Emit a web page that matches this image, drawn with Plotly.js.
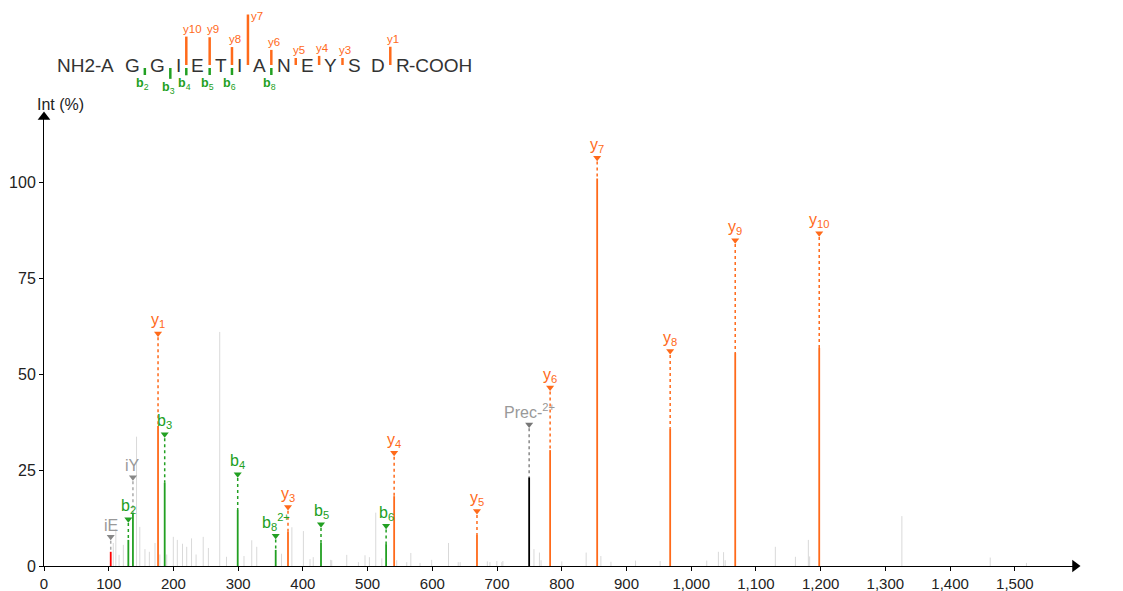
<!DOCTYPE html>
<html><head><meta charset="utf-8">
<script src="https://cdn.plot.ly/plotly-3.0.1.min.js"></script>
<style>html,body{margin:0;padding:0;background:#fff}#chart{width:1123px;height:591px}</style>
</head><body><div id="chart"></div>
<script>
// ================= DATA =================
const residues = ['A','G','G','I','E','T','I','A','N','E','Y','S','D','R'];
const nTermText = 'NH2-';
const cTermText = '-COOH';

// y ions
const yIonNames = ['1','3','4','5','6','7','8','9','10'];
const yIonMz = [176.2, 377.0, 541.0, 669.0, 782.0, 854.7, 967.5, 1068.0, 1197.8];
const yIonInt = [36.5, 8.9, 18.2, 8.1, 30.2, 101.0, 35.9, 55.5, 56.8];
const yIonLabelLevel = [60.6, 15.4, 29.5, 14.3, 46.5, 106.4, 56.0, 84.9, 86.7];

// b ions
const bIonNames = ['2','3','4','5','6','8'];
const bIonCharge = [1, 1, 1, 1, 1, 2];
const bIonMz = [130.3, 186.5, 299.3, 428.0, 528.6, 358.0];
const bIonInt = [6.8, 21.7, 14.6, 6.1, 5.7, 4.2];
const bIonLabelLevel = [12.2, 34.3, 23.9, 10.9, 10.5, 7.9];

// immonium ions
const immNames = ['iE', 'iY'];
const immMz = [103.1, 137.4];
const immInt = [3.7, 13.9];
const immLabelLevel = [7.6, 23.1];

// precursor
const precName = 'Prec-';
const precCharge = '2+';
const precMz = [749.6];
const precInt = [23.1];
const precLabelLevel = [36.9];

// unassigned peaks
const noiseMz = [107, 111, 116, 122.6, 143, 148, 156, 162.8, 171.5, 179, 189.6, 199.8, 206, 214, 220.5, 228, 235, 246, 254,
  271.5, 282, 309, 321, 328.7, 367, 383, 400.8, 411, 416, 443, 444.6, 467.8, 485.8, 496, 502.8, 512.6, 522, 545, 560.5,
  566.8, 581, 599, 625, 640, 643, 685, 689, 699.7, 707.4, 709, 757, 765.5, 768, 800, 837.7, 860.4, 876, 914, 952, 1024,
  1042, 1050, 1052.5, 1130, 1161, 1181, 1183, 1325.5, 1462, 1518];
const noiseInt = [6, 9.6, 2.9, 5.5, 33.7, 10.2, 4.4, 3.7, 6, 3, 3, 7.6, 6.8, 5.8, 5, 7.2, 3, 7.6, 4.7,
  61, 2.4, 2.6, 6.7, 5, 3.2, 10.1, 9.1, 1.8, 2.3, 1.6, 1.5, 2.9, 1, 2.8, 2.3, 13.9, 2, 1.5, 1,
  3.4, 0.8, 1.6, 6, 1, 1, 1.2, 1, 1.3, 1, 1.3, 4.4, 3.5, 1.5, 1.2, 3.5, 2.6, 1.1, 1.4, 1.3, 1.4,
  3.7, 3.6, 1.5, 5, 2.4, 6.8, 2.5, 13, 2.2, 0.8];

// ================= STYLE =================
const ORANGE = '#ff6a1a', GREEN = '#22a022', GREY_LBL = '#999999', GREY_PEAK = '#d9d9d9';
const FONT = '"Liberation Sans", Arial, sans-serif';
const W = 1123, H = 591, mL = 44, mR = 48, mT = 0, mB = 25;
const plotH = H - mT - mB;
const yTopPx = 117;
const X_MAX = 1593, Y_MAX = 117;

const traces = [];
const annotations = [];

function stickTrace(xs, ys0, ys1, color, width, dash) {
  const x = [], y = [];
  for (let i = 0; i < xs.length; i++) { x.push(xs[i], xs[i], null); y.push(ys0[i], ys1[i], null); }
  traces.push({type: 'scatter', mode: 'lines', x, y, xaxis: 'x', yaxis: 'y', hoverinfo: 'skip',
    line: {color, width, dash: dash || 'solid'}, cliponaxis: false});
}

// noise peaks
stickTrace(noiseMz, noiseMz.map(() => 0), noiseInt, GREY_PEAK, 1);

// annotated peak groups
function annotatedGroup(mz, inten, level, labels, solidColor, connColor, markColor, lblColor) {
  const solidColors = Array.isArray(solidColor) ? solidColor : mz.map(() => solidColor);
  const gap = 1.0;
  stickTrace(mz, level.map(l => l - gap), inten, connColor, 1.5, '3px,3px');
  const byColor = {};
  mz.forEach((m, i) => { (byColor[solidColors[i]] = byColor[solidColors[i]] || []).push(i); });
  Object.keys(byColor).forEach(c => {
    const idx = byColor[c];
    stickTrace(idx.map(i => mz[i]), idx.map(() => 0), idx.map(i => inten[i]), c, 1.8);
  });
  traces.push({type: 'scatter', mode: 'markers', x: mz, y: level, xaxis: 'x', yaxis: 'y', hoverinfo: 'skip',
    cliponaxis: false, marker: {symbol: 'triangle-down', size: 7, color: markColor, line: {width: 0}}});
  labels.forEach((t, i) => {
    annotations.push({x: mz[i], y: level[i], xref: 'x', yref: 'y', text: t, showarrow: false,
      xanchor: 'center', yanchor: 'bottom', yshift: 2, borderpad: 0,
      font: {family: FONT, size: 16, color: lblColor}});
  });
}

annotatedGroup(yIonMz, yIonInt, yIonLabelLevel, yIonNames.map(n => 'y<sub>' + n + '</sub>'), ORANGE, ORANGE, ORANGE, ORANGE);
annotatedGroup(bIonMz, bIonInt, bIonLabelLevel,
  bIonNames.map((n, i) => 'b<sub>' + n + '</sub>' + (bIonCharge[i] > 1 ? '<sup>' + bIonCharge[i] + '+</sup>' : '')),
  GREEN, GREEN, GREEN, GREEN);
annotatedGroup(immMz, immInt, immLabelLevel, immNames, ['#ff0000', GREEN], '#aaaaaa', '#888888', GREY_LBL);
annotatedGroup(precMz, precInt, precLabelLevel, [precName + '<sup>' + precCharge + '</sup>'], '#000000', '#888888', '#777777', GREY_LBL);

// axis arrows
traces.push({type: 'scatter', mode: 'markers', x: [0, X_MAX], y: [Y_MAX, 0], xaxis: 'x', yaxis: 'y', hoverinfo: 'skip',
  cliponaxis: false, marker: {symbol: ['triangle-up', 'triangle-right'], size: 11, color: '#000', line: {width: 0}}});

// ================= SEQUENCE DIAGRAM (pixel overlay axes x2/y2) =================
const seqSize = 19;
const ctx = document.createElement('canvas').getContext('2d');
ctx.font = seqSize + 'px "Liberation Sans"';
const seqLeft = 57, seqMid = 65.5, seqGap = 10.7;
let cursor = seqLeft + ctx.measureText(nTermText).width;
const resL = [], resR = [];
residues.forEach((r, i) => {
  const w = ctx.measureText(r).width;
  resL.push(cursor); resR.push(cursor + w);
  cursor += w + seqGap;
});
const seqFont = {family: FONT, size: seqSize, color: '#333333'};
annotations.push({x: resL[0], y: seqMid, xref: 'x2', yref: 'y2', text: nTermText, showarrow: false, xanchor: 'right',
  yanchor: 'middle', borderpad: 0, borderwidth: 0, font: seqFont});
residues.forEach((r, i) => annotations.push({x: (resL[i] + resR[i]) / 2, y: seqMid, xref: 'x2', yref: 'y2', text: r,
  showarrow: false, xanchor: 'center', yanchor: 'middle', borderpad: 0, borderwidth: 0, font: seqFont}));
annotations.push({x: resR[residues.length - 1], y: seqMid, xref: 'x2', yref: 'y2', text: cTermText, showarrow: false,
  xanchor: 'left', yanchor: 'middle', borderpad: 0, borderwidth: 0, font: seqFont});

const nRes = residues.length;
const cut = k => (resR[k - 1] + resL[k]) / 2; // cleavage after k residues
const barLen = I => Math.max(7, 0.5 * I);
const yBase = 65, bBase = 68;
// y fragment bars
{
  const x = [], y = [];
  yIonNames.forEach((n, i) => {
    const k = nRes - parseInt(n, 10);
    const cx = cut(k), top = yBase - barLen(yIonInt[i]);
    x.push(cx, cx, null); y.push(yBase, top, null);
    let ann = {x: cx - 4, y: top - 1, xref: 'x2', yref: 'y2', text: 'y' + n, showarrow: false, xanchor: 'left',
      yanchor: 'bottom', borderpad: 0, font: {family: FONT, size: 11.5, color: ORANGE}};
    if (top - 12 < 10) { ann.x = cx + 2; ann.y = top + 1; ann.yanchor = 'middle'; }
    annotations.push(ann);
  });
  traces.push({type: 'scatter', mode: 'lines', x, y, xaxis: 'x2', yaxis: 'y2', hoverinfo: 'skip', cliponaxis: false,
    line: {color: ORANGE, width: 2.5}});
}
// b fragment bars
{
  const x = [], y = [];
  bIonNames.forEach((n, i) => {
    const k = parseInt(n, 10);
    const cx = cut(k), bot = bBase + barLen(bIonInt[i]);
    x.push(cx, cx, null); y.push(bBase, bot, null);
    annotations.push({x: cx - 2, y: bot, xref: 'x2', yref: 'y2', text: '<b>b</b><sub>' + n + '</sub>', showarrow: false,
      xanchor: 'center', yanchor: 'top', borderpad: 0, font: {family: FONT, size: 12.5, color: GREEN}});
  });
  traces.push({type: 'scatter', mode: 'lines', x, y, xaxis: 'x2', yaxis: 'y2', hoverinfo: 'skip', cliponaxis: false,
    line: {color: GREEN, width: 2.5}});
}

// axis titles
annotations.push({x: 60, y: 104, xref: 'x2', yref: 'y2', text: 'Int (%)', showarrow: false, xanchor: 'center',
  yanchor: 'middle', font: {family: FONT, size: 16, color: '#222'}});
annotations.push({x: 1092, y: 566, xref: 'x2', yref: 'y2', text: 'm/z', showarrow: false, xanchor: 'left',
  yanchor: 'middle', font: {family: FONT, size: 16, color: '#222'}});

const layout = {
  width: W, height: H, margin: {l: mL, r: mR, t: mT, b: mB, pad: 0},
  paper_bgcolor: '#ffffff', plot_bgcolor: 'rgba(0,0,0,0)', showlegend: false,
  font: {family: FONT, color: '#222'},
  xaxis: {range: [0, X_MAX], domain: [0, 1], anchor: 'y', showline: true, linecolor: '#000', linewidth: 1,
    ticks: 'outside', ticklen: 4, tickcolor: '#000', tick0: 0, dtick: 100, tickformat: ',', separatethousands: true,
    showgrid: false, zeroline: false, tickfont: {family: FONT, size: 15, color: '#222'}, automargin: false, fixedrange: true},
  yaxis: {range: [0, Y_MAX], domain: [0, (plotH - yTopPx) / plotH], anchor: 'x', showline: true, linecolor: '#000',
    linewidth: 1, ticks: 'outside', ticklen: 4, tickcolor: '#000', tick0: 0, dtick: 25, showgrid: false, zeroline: false,
    tickfont: {family: FONT, size: 16, color: '#222'}, automargin: false, fixedrange: true},
  xaxis2: {range: [mL, W - mR], domain: [0, 1], anchor: 'y2', visible: false, fixedrange: true},
  yaxis2: {range: [plotH, 0], domain: [0, 1], anchor: 'x2', visible: false, fixedrange: true},
  annotations
};

Plotly.newPlot('chart', traces, layout, {displayModeBar: false, staticPlot: true});
</script></body></html>
